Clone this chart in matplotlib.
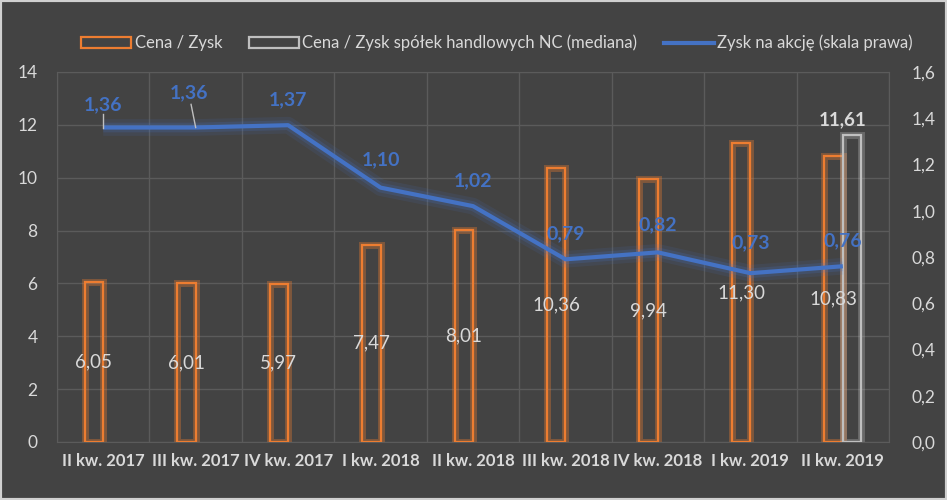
import numpy as np
import matplotlib
matplotlib.use("Agg")
import matplotlib.pyplot as plt
import matplotlib.patheffects as pe
from matplotlib.patches import Rectangle
from matplotlib.lines import Line2D

plt.rcParams['font.family'] = ['Lato', 'DejaVu Sans']

# dane
kwartaly = ["II kw. 2017", "III kw. 2017", "IV kw. 2017", "I kw. 2018", "II kw. 2018",
            "III kw. 2018", "IV kw. 2018", "I kw. 2019", "II kw. 2019"]
cena_zysk = [6.05, 6.01, 5.97, 7.47, 8.01, 10.36, 9.94, 11.30, 10.83]
cena_zysk_nc = [np.nan] * 8 + [11.61]
zysk_na_akcje = [1.36, 1.36, 1.37, 1.10, 1.02, 0.79, 0.82, 0.73, 0.76]

BG = "#434343"
GRID = "#5b5b5b"
TXT = "#d9d9d9"
ORANGE = "#ed7d31"
GRAY = "#bfbfbf"
BLUE = "#4472c4"

def fmt(v, d=2):
    return f"{v:.{d}f}".replace(".", ",")

fig = plt.figure(figsize=(9.47, 5.0), dpi=100, facecolor=BG)
ax = fig.add_axes([0.0602, 0.116, 0.8786, 0.740])
ax.set_facecolor(BG)

x = np.arange(len(kwartaly))
w = 0.2
glow_o = [pe.Stroke(linewidth=5, foreground=ORANGE, alpha=0.35), pe.Normal()]
glow_g = [pe.Stroke(linewidth=5, foreground=GRAY, alpha=0.3), pe.Normal()]
ax.bar(x - w / 2, cena_zysk, w, facecolor="none", edgecolor=ORANGE, linewidth=1.6,
       path_effects=glow_o, zorder=3)
ax.bar(x + w / 2, cena_zysk_nc, w, facecolor="none", edgecolor=GRAY, linewidth=1.6,
       path_effects=glow_g, zorder=3)

for xi, v in zip(x, cena_zysk):
    ax.text(xi - w / 2, v / 2, fmt(v), ha="center", va="center", color=TXT,
            fontsize=13.5, zorder=6)
for xi, v in zip(x, cena_zysk_nc):
    if not np.isnan(v):
        ax.text(xi + w / 2 - 0.1, v + 0.25, fmt(v), ha="center", va="bottom",
                color=TXT, fontsize=13.5, fontweight="bold", zorder=6)

ax.set_xlim(-0.5, len(kwartaly) - 0.5)
ax.set_ylim(0, 14)
ax.set_yticks(np.arange(0, 15, 2))
ax.set_xticks(x)
ax.set_xticklabels(kwartaly, fontsize=12, fontweight="bold", color=TXT)
ax.tick_params(axis="y", colors=TXT, labelsize=12.5, length=0, pad=14)
ax.tick_params(axis="x", length=0, pad=8)
ax.set_xticks(np.arange(-0.5, len(kwartaly), 1), minor=True)
ax.tick_params(axis="x", which="minor", length=0)
ax.grid(True, axis="y", color=GRID, linewidth=1, zorder=0)
ax.grid(True, axis="x", which="minor", color=GRID, linewidth=1, zorder=0)
ax.grid(False, axis="x", which="major")
for s in ax.spines.values():
    s.set_color(GRID)

ax2 = ax.twinx()
ax2.set_ylim(0, 1.6)
ax2.set_yticks(np.arange(0, 1.61, 0.2))
ax2.set_yticklabels([fmt(t, 1) for t in np.arange(0, 1.61, 0.2)])
ax2.tick_params(axis="y", colors=TXT, labelsize=12.5, length=0, pad=16)
for s in ax2.spines.values():
    s.set_visible(False)
ax2.plot(x, zysk_na_akcje, color=BLUE, linewidth=3, solid_capstyle="butt", zorder=4,
         path_effects=[pe.Stroke(linewidth=12, foreground=BLUE, alpha=0.12),
                       pe.Stroke(linewidth=7, foreground=BLUE, alpha=0.2), pe.Normal()])

# etykiety zysku na akcję
offsets = [(0, 0.10), (-0.07, 0.15), (0, 0.11), (0, 0.12), (0, 0.11), (0, 0.11), (0, 0.12), (0, 0.13), (0, 0.11)]
for i, (xi, v) in enumerate(zip(x, zysk_na_akcje)):
    dx, dy = offsets[i]
    ax2.text(xi + dx, v + dy, fmt(v), ha="center", va="center", color=BLUE,
             fontsize=14, fontweight="bold", zorder=6)
ax2.plot([0, 0], [1.36, 1.42], color=GRAY, linewidth=1, zorder=5)
ax2.plot([1, 0.95], [1.36, 1.46], color=GRAY, linewidth=1, zorder=5)

# legenda
handles = [Rectangle((0, 0), 1, 1, facecolor="none", edgecolor=ORANGE, linewidth=1.6),
           Rectangle((0, 0), 1, 1, facecolor="none", edgecolor=GRAY, linewidth=1.6),
           Line2D([0], [0], color=BLUE, linewidth=3)]
labels = ["Cena / Zysk", "Cena / Zysk spółek handlowych NC (mediana)", "Zysk na akcję (skala prawa)"]
leg = fig.legend(handles, labels, loc="center", bbox_to_anchor=(0.525, 0.914), ncol=3,
                 frameon=False, fontsize=12, labelcolor=TXT, handlelength=3.0,
                 handleheight=0.6, handletextpad=0.2, columnspacing=1.6)

fig.patches.append(Rectangle((0, 0), 1, 1, transform=fig.transFigure, facecolor="none",
                             edgecolor="#d0d0d0", linewidth=3))

fig.savefig("out.png", dpi=100, facecolor=BG)
